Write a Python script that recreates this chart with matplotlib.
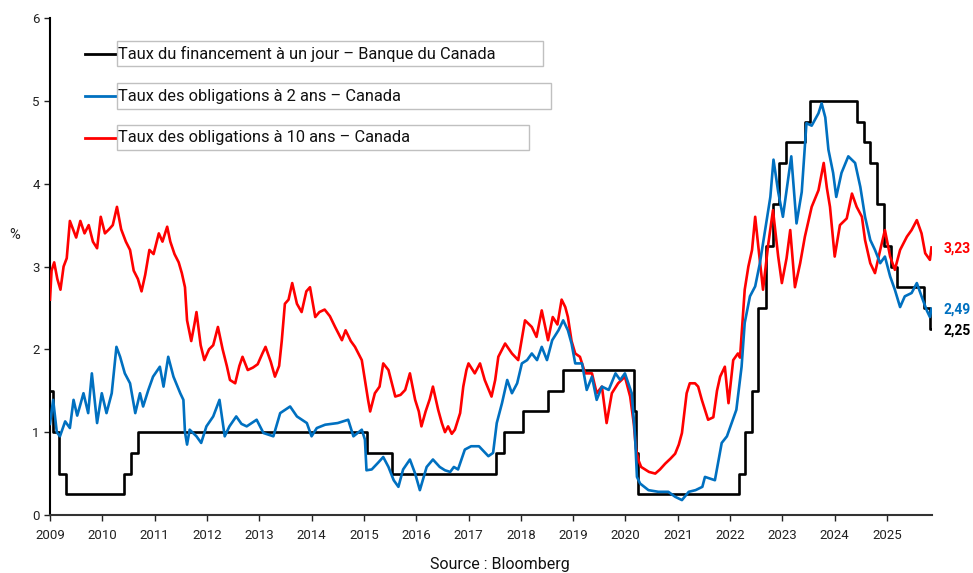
import numpy as np
import pandas as pd
import matplotlib
matplotlib.use("Agg")
import matplotlib.pyplot as plt
from matplotlib.patches import Rectangle
from matplotlib.lines import Line2D

plt.rcParams['font.family'] = ['Roboto', 'DejaVu Sans']

# Taux du financement à un jour (Banque du Canada) - dates of change and new level
overnight_dates = ['2009-01-01', '2009-01-20', '2009-03-03', '2009-04-21', '2010-06-01',
                   '2010-07-20', '2010-09-08', '2015-01-21', '2015-07-15', '2017-07-12',
                   '2017-09-06', '2018-01-17', '2018-07-11', '2018-10-24', '2020-03-04',
                   '2020-03-13', '2020-03-27', '2022-03-02', '2022-04-13', '2022-06-01',
                   '2022-07-13', '2022-09-07', '2022-10-26', '2022-12-07', '2023-01-25',
                   '2023-06-07', '2023-07-12', '2024-06-05', '2024-07-24', '2024-09-04',
                   '2024-10-23', '2024-12-11', '2025-01-29', '2025-03-12', '2025-09-17',
                   '2025-10-29']
overnight_rate = [1.50, 1.00, 0.50, 0.25, 0.50, 0.75, 1.00, 0.75, 0.50, 0.75,
                  1.00, 1.25, 1.50, 1.75, 1.25, 0.75, 0.25, 0.50, 1.00, 1.50,
                  2.50, 3.25, 3.75, 4.25, 4.50, 4.75, 5.00, 4.75, 4.50, 4.25,
                  3.75, 3.25, 3.00, 2.75, 2.50, 2.25]
last_date = 2025.85

# Taux des obligations à 2 ans (decimal years)
y2_x = [2009.00, 2009.06, 2009.13, 2009.19, 2009.29, 2009.38, 2009.45, 2009.52, 2009.57, 2009.64,
        2009.73, 2009.80, 2009.90, 2009.99, 2010.08, 2010.18, 2010.27, 2010.34, 2010.43, 2010.53,
        2010.63, 2010.72, 2010.78, 2010.88, 2010.97, 2011.10, 2011.17, 2011.26, 2011.36, 2011.49,
        2011.55, 2011.58, 2011.62, 2011.67, 2011.80, 2011.89, 2011.99, 2012.12, 2012.24, 2012.34,
        2012.43, 2012.56, 2012.66, 2012.76, 2012.95, 2013.08, 2013.27, 2013.40, 2013.59, 2013.72,
        2013.91, 2014.00, 2014.10, 2014.26, 2014.50, 2014.70, 2014.80, 2014.96, 2015.02, 2015.05,
        2015.15, 2015.27, 2015.37, 2015.47, 2015.57, 2015.66, 2015.75, 2015.88, 2015.98, 2016.07,
        2016.20, 2016.32, 2016.45, 2016.55, 2016.65, 2016.72, 2016.80, 2016.93, 2017.05, 2017.20,
        2017.38, 2017.47, 2017.54, 2017.64, 2017.74, 2017.83, 2017.93, 2018.02, 2018.12, 2018.21,
        2018.31, 2018.40, 2018.50, 2018.60, 2018.72, 2018.81, 2018.90, 2018.97, 2019.04, 2019.17,
        2019.26, 2019.36, 2019.45, 2019.55, 2019.68, 2019.81, 2019.90, 2019.99, 2020.12, 2020.18,
        2020.22, 2020.28, 2020.44, 2020.63, 2020.82, 2020.95, 2021.08, 2021.21, 2021.34, 2021.47,
        2021.52, 2021.71, 2021.84, 2021.94, 2022.03, 2022.12, 2022.22, 2022.28, 2022.38, 2022.48,
        2022.57, 2022.67, 2022.77, 2022.83, 2022.92, 2023.01, 2023.08, 2023.17, 2023.27, 2023.37,
        2023.46, 2023.56, 2023.69, 2023.75, 2023.82, 2023.88, 2023.97, 2024.03, 2024.13, 2024.26,
        2024.39, 2024.49, 2024.58, 2024.68, 2024.77, 2024.87, 2024.96, 2025.06, 2025.15, 2025.25,
        2025.34, 2025.47, 2025.57, 2025.66, 2025.76, 2025.82, 2025.85]
y2_val = [1.10, 1.39, 1.00, 0.95, 1.13, 1.05, 1.39, 1.20, 1.31, 1.47,
          1.23, 1.71, 1.11, 1.47, 1.23, 1.47, 2.03, 1.91, 1.71, 1.59,
          1.23, 1.47, 1.31, 1.51, 1.67, 1.79, 1.55, 1.91, 1.67, 1.47,
          1.39, 1.00, 0.85, 1.03, 0.95, 0.87, 1.07, 1.19, 1.39, 0.95,
          1.07, 1.19, 1.10, 1.07, 1.15, 0.99, 0.95, 1.23, 1.31, 1.19,
          1.11, 0.95, 1.05, 1.09, 1.11, 1.15, 0.95, 1.03, 0.91, 0.54,
          0.55, 0.63, 0.70, 0.58, 0.42, 0.34, 0.55, 0.67, 0.50, 0.30,
          0.58, 0.67, 0.58, 0.54, 0.52, 0.58, 0.55, 0.79, 0.83, 0.83,
          0.71, 0.75, 1.11, 1.35, 1.63, 1.47, 1.59, 1.83, 1.87, 1.95,
          1.87, 2.03, 1.87, 2.11, 2.23, 2.35, 2.23, 2.07, 1.83, 1.83,
          1.51, 1.67, 1.39, 1.55, 1.51, 1.71, 1.63, 1.71, 1.47, 0.99,
          0.46, 0.38, 0.30, 0.28, 0.28, 0.22, 0.18, 0.28, 0.30, 0.34,
          0.46, 0.42, 0.87, 0.95, 1.11, 1.27, 1.79, 2.32, 2.64, 2.76,
          3.04, 3.44, 3.84, 4.29, 3.90, 3.60, 3.92, 4.33, 3.52, 3.90,
          4.73, 4.70, 4.85, 4.97, 4.80, 4.41, 4.13, 3.84, 4.13, 4.33,
          4.25, 3.96, 3.60, 3.32, 3.20, 3.04, 3.12, 2.88, 2.72, 2.51,
          2.64, 2.68, 2.80, 2.64, 2.47, 2.39, 2.49]

# Taux des obligations à 10 ans
y10_x = [2009.00, 2009.03, 2009.08, 2009.14, 2009.20, 2009.26, 2009.32, 2009.38, 2009.44, 2009.50,
         2009.58, 2009.66, 2009.74, 2009.82, 2009.90, 2009.97, 2010.05, 2010.13, 2010.20, 2010.28,
         2010.36, 2010.45, 2010.53, 2010.60, 2010.68, 2010.75, 2010.82, 2010.90, 2010.98, 2011.08,
         2011.15, 2011.24, 2011.30, 2011.38, 2011.46, 2011.52, 2011.58, 2011.62, 2011.70, 2011.76,
         2011.80, 2011.88, 2011.95, 2012.04, 2012.12, 2012.21, 2012.30, 2012.38, 2012.44, 2012.54,
         2012.62, 2012.68, 2012.78, 2012.88, 2012.97, 2013.06, 2013.12, 2013.22, 2013.30, 2013.38,
         2013.43, 2013.49, 2013.56, 2013.63, 2013.72, 2013.81, 2013.90, 2013.97, 2014.07, 2014.15,
         2014.25, 2014.35, 2014.45, 2014.58, 2014.65, 2014.75, 2014.83, 2014.96, 2015.04, 2015.08,
         2015.12, 2015.21, 2015.30, 2015.37, 2015.47, 2015.55, 2015.60, 2015.70, 2015.79, 2015.88,
         2015.98, 2016.05, 2016.10, 2016.18, 2016.26, 2016.32, 2016.42, 2016.49, 2016.55, 2016.61,
         2016.68, 2016.74, 2016.84, 2016.90, 2016.96, 2017.00, 2017.12, 2017.22, 2017.31, 2017.44,
         2017.51, 2017.57, 2017.70, 2017.83, 2017.95, 2018.04, 2018.08, 2018.21, 2018.30, 2018.40,
         2018.52, 2018.61, 2018.70, 2018.78, 2018.85, 2018.90, 2018.97, 2019.04, 2019.13, 2019.23,
         2019.36, 2019.45, 2019.55, 2019.64, 2019.74, 2019.86, 2019.99, 2020.09, 2020.16, 2020.20,
         2020.25, 2020.30, 2020.45, 2020.57, 2020.66, 2020.76, 2020.86, 2020.95, 2021.02, 2021.08,
         2021.17, 2021.23, 2021.33, 2021.39, 2021.46, 2021.58, 2021.68, 2021.75, 2021.81, 2021.90,
         2021.97, 2022.06, 2022.15, 2022.19, 2022.28, 2022.35, 2022.42, 2022.48, 2022.54, 2022.63,
         2022.73, 2022.82, 2022.92, 2022.99, 2023.08, 2023.15, 2023.24, 2023.34, 2023.43, 2023.56,
         2023.69, 2023.79, 2023.85, 2023.91, 2024.00, 2024.10, 2024.23, 2024.33, 2024.42, 2024.52,
         2024.58, 2024.68, 2024.77, 2024.87, 2024.96, 2025.06, 2025.15, 2025.25, 2025.38, 2025.47,
         2025.57, 2025.66, 2025.73, 2025.82, 2025.85]
y10_val = [2.60, 2.95, 3.05, 2.85, 2.72, 3.00, 3.10, 3.55, 3.45, 3.35,
           3.55, 3.40, 3.50, 3.30, 3.22, 3.60, 3.40, 3.45, 3.50, 3.72,
           3.45, 3.30, 3.20, 2.95, 2.85, 2.70, 2.90, 3.20, 3.15, 3.40,
           3.30, 3.48, 3.30, 3.15, 3.05, 2.92, 2.75, 2.35, 2.10, 2.30,
           2.45, 2.05, 1.87, 2.00, 2.05, 2.27, 2.00, 1.80, 1.63, 1.59,
           1.80, 1.91, 1.75, 1.78, 1.82, 1.95, 2.03, 1.85, 1.67, 1.80,
           2.10, 2.55, 2.60, 2.80, 2.55, 2.45, 2.70, 2.75, 2.39, 2.45,
           2.48, 2.40, 2.27, 2.11, 2.23, 2.10, 2.03, 1.87, 1.55, 1.39,
           1.25, 1.47, 1.55, 1.83, 1.75, 1.55, 1.43, 1.45, 1.51, 1.71,
           1.39, 1.25, 1.07, 1.25, 1.40, 1.55, 1.27, 1.11, 1.00, 1.07,
           0.98, 1.03, 1.23, 1.55, 1.75, 1.83, 1.71, 1.83, 1.63, 1.43,
           1.63, 1.91, 2.07, 1.95, 1.87, 2.20, 2.35, 2.27, 2.15, 2.47,
           2.11, 2.39, 2.30, 2.60, 2.51, 2.39, 2.10, 1.95, 1.91, 1.71,
           1.71, 1.47, 1.55, 1.11, 1.47, 1.59, 1.67, 1.43, 1.10, 0.80,
           0.66, 0.58, 0.52, 0.50, 0.55, 0.62, 0.68, 0.74, 0.85, 0.99,
           1.47, 1.59, 1.59, 1.55, 1.39, 1.15, 1.18, 1.50, 1.67, 1.79,
           1.35, 1.87, 1.95, 1.90, 2.72, 3.00, 3.20, 3.60, 3.24, 2.72,
           3.27, 3.68, 3.12, 2.80, 3.10, 3.44, 2.75, 3.04, 3.36, 3.72,
           3.92, 4.25, 3.95, 3.72, 3.12, 3.50, 3.58, 3.88, 3.72, 3.60,
           3.32, 3.04, 2.92, 3.20, 3.44, 3.12, 2.96, 3.20, 3.36, 3.44,
           3.56, 3.40, 3.16, 3.08, 3.23]

year_ticks = list(range(2009, 2026))
legend_labels = ['Taux du financement à un jour – Banque du Canada',
                 'Taux des obligations à 2 ans – Canada',
                 'Taux des obligations à 10 ans – Canada']
col_on, col_2y, col_10y = 'black', '#0070C0', '#FF0000'


def to_year(d):
    t = pd.Timestamp(d)
    return t.year + (t.dayofyear - 1) / (366 if t.is_leap_year else 365)


on_x = [to_year(d) for d in overnight_dates] + [last_date]
on_y = overnight_rate + [overnight_rate[-1]]

W, H = 973, 573
fig = plt.figure(figsize=(W / 100, H / 100), dpi=100)
ax = fig.add_axes([50 / W, 1 - 515 / H, (932 - 50) / W, (515 - 18) / H])

ax.step(on_x, on_y, where='post', color=col_on, lw=1.9, zorder=2)
ax.plot(y10_x, y10_val, color=col_10y, lw=1.9, zorder=3)
ax.plot(y2_x, y2_val, color=col_2y, lw=1.9, zorder=4)

ax.set_xlim(2009, 2025.86)
ax.set_ylim(0, 6)
ax.set_xticks(year_ticks)
ax.set_xticklabels([str(y) for y in year_ticks])
ax.set_yticks(range(0, 7))
ax.tick_params(axis='both', labelsize=9.5, colors='#222222', length=4, width=1)
ax.tick_params(axis='x', pad=6)
for s in ['top', 'right']:
    ax.spines[s].set_visible(False)
ax.spines['left'].set_color('black')
ax.spines['left'].set_linewidth(1.5)
ax.spines['bottom'].set_color('#333333')
ax.spines['bottom'].set_linewidth(1.5)

# end labels
ends = [(y10_val[-1], col_10y, 249), (y2_val[-1], col_2y, 310), (overnight_rate[-1], col_on, 331)]
for val, c, ypix in ends:
    fig.text(944 / W, 1 - ypix / H, f"{val:.2f}".replace('.', ','), color=c,
             fontsize=10, fontweight='bold', va='center', ha='left')

# legend drawn as separate boxes
boxes = [(41, 66, 543), (83, 109, 551), (125, 150, 529)]
for (top, bot, right), lab, c in zip(boxes, legend_labels, [col_on, col_2y, col_10y]):
    fig.patches.append(Rectangle((117 / W, 1 - bot / H), (right - 117) / W, (bot - top) / H,
                                 transform=fig.transFigure, fill=False, ec='#C0C0C0', lw=1))
    yc = 1 - (top + bot) / 2 / H
    fig.lines.append(Line2D([85 / W, 115 / W], [yc, yc], transform=fig.transFigure,
                            color=c, lw=2))
    fig.text(118 / W, yc, lab, fontsize=11.8, va='center', ha='left', color='#111111')

fig.text(15 / W, 1 - 235 / H, '%', fontsize=10.5, ha='center', va='center', color='#222222')
fig.text(500 / W, 1 - 564 / H, 'Source : Bloomberg', fontsize=11.5, ha='center',
         va='center', color='#111111')

fig.savefig('out.png', dpi=100)
